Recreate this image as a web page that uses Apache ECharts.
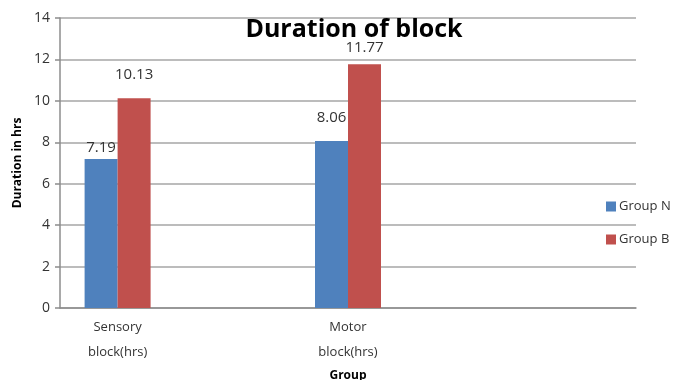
<!DOCTYPE html>
<html>
<head>
<meta charset="utf-8">
<script src="https://cdn.jsdelivr.net/npm/echarts@6/dist/echarts.min.js"></script>
<style>
  html, body { margin: 0; padding: 0; background: #fff; }
  #chart { width: 676px; height: 380px; }
</style>
</head>
<body>
<div id="chart"></div>
<script>
// Category slots along the x axis; the empty ones keep the plot's spacing.
const categories = ['Sensory\nblock(hrs)', '', 'Motor\nblock(hrs)', '', ''];
const groupN = [7.19, null, 8.06, null, null];
const groupB = [10.13, null, 11.77, null, null];
const yTicks = [0, 2, 4, 6, 8, 10, 12, 14];

// Gap between each bar top and its value label (px).
const liftN = [4, 0, 16, 0, 0];
const liftB = [16, 0, 9, 0, 0];

const font = 'Open Sans, Liberation Sans, sans-serif';
const textColor = '#333';

function toData(values, lifts) {
  return values.map((v, i) => v === null ? null : ({
    value: v,
    label: { distance: lifts[i] }
  }));
}

const chart = echarts.init(document.getElementById('chart'), null, { renderer: 'canvas' });
chart.setOption({
  animation: false,
  backgroundColor: '#fff',
  title: {
    text: 'Duration of block',
    left: 349,
    top: 12,
    textAlign: 'center',
    textStyle: { fontFamily: font, fontWeight: 'bold', fontSize: 25, color: '#000' }
  },
  legend: {
    orient: 'vertical',
    left: 601,
    top: 195,
    itemWidth: 10,
    itemHeight: 10,
    itemGap: 20,
    icon: 'rect',
    textStyle: { fontFamily: font, fontSize: 13, color: textColor, padding: [0, 0, 0, -2] },
    data: ['Group N', 'Group B']
  },
  grid: { left: 60, right: 40, top: 18, bottom: 72, outerBoundsMode: 'none', containLabel: false },
  xAxis: {
    type: 'category',
    data: categories,
    name: 'Group',
    nameLocation: 'middle',
    nameGap: 60,
    nameTextStyle: { fontFamily: font, fontWeight: 'bold', fontSize: 12, color: '#000' },
    axisLine: { lineStyle: { color: '#8c8c8c', width: 1.5 } },
    axisTick: { show: false },
    axisLabel: { fontFamily: font, fontSize: 13, color: textColor, margin: 7, lineHeight: 25, interval: 0 }
  },
  yAxis: {
    type: 'value',
    min: yTicks[0],
    max: yTicks[yTicks.length - 1],
    interval: 2,
    name: 'Duration in hrs',
    nameLocation: 'middle',
    nameGap: 36,
    nameTextStyle: { fontFamily: font, fontWeight: 'bold', fontSize: 12, color: '#000' },
    axisLine: { show: true, lineStyle: { color: '#8c8c8c', width: 1.5 } },
    axisTick: { show: true, length: 5, lineStyle: { color: '#8c8c8c', width: 1.5 } },
    axisLabel: { fontFamily: font, fontSize: 14, color: textColor, margin: 10 },
    splitLine: { show: true, lineStyle: { color: '#a6a6a6', width: 1.5 } }
  },
  series: [
    {
      name: 'Group N',
      type: 'bar',
      data: toData(groupN, liftN),
      barWidth: 33,
      barGap: '0%',
      itemStyle: { color: '#4F81BD' },
      label: { show: true, position: 'top', fontFamily: font, fontSize: 15, color: textColor }
    },
    {
      name: 'Group B',
      type: 'bar',
      data: toData(groupB, liftB),
      barWidth: 33,
      barGap: '0%',
      itemStyle: { color: '#C0504D' },
      label: { show: true, position: 'top', fontFamily: font, fontSize: 15, color: textColor }
    }
  ]
});
</script>
</body>
</html>
